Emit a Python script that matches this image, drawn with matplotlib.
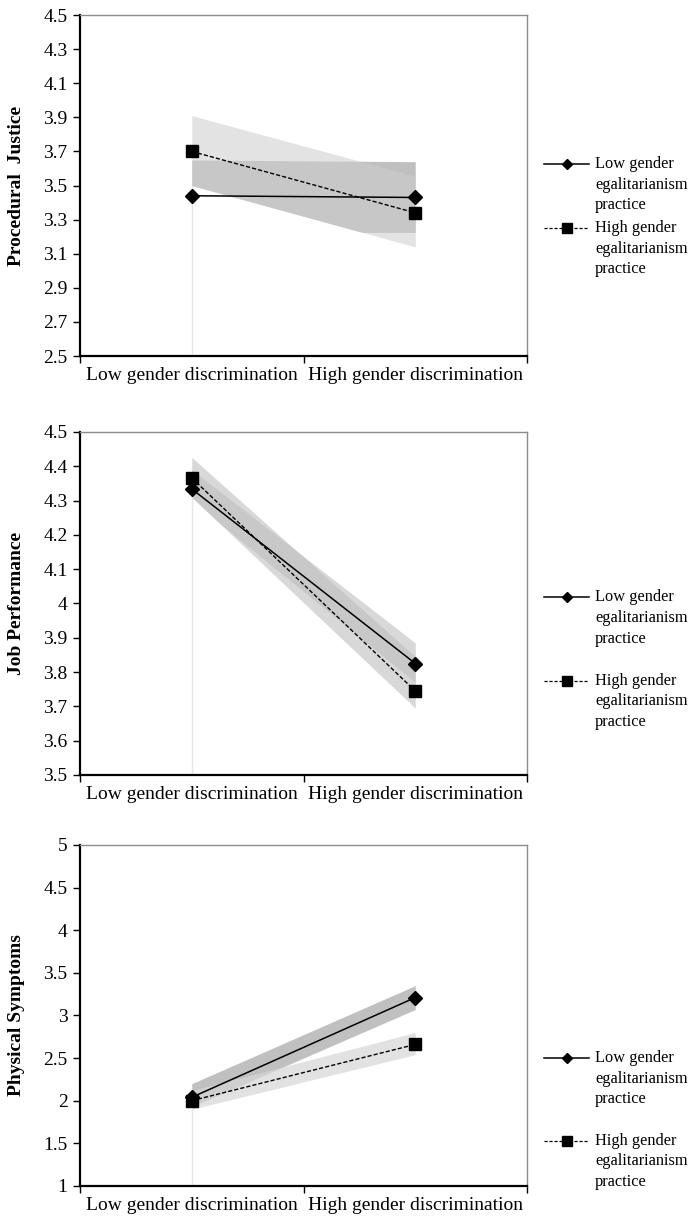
import matplotlib
matplotlib.use('Agg')
import matplotlib.pyplot as plt
from matplotlib.ticker import FixedLocator, FuncFormatter

plt.rcParams['font.family'] = ['Liberation Serif', 'DejaVu Serif']

categories = ['Low gender discrimination', 'High gender discrimination']
legend_labels = ['Low gender\negalitarianism\npractice',
                 'High gender\negalitarianism\npractice']

# Procedural justice
pj_low = [3.44, 3.43]
pj_high = [3.70, 3.34]
pj_low_lo = [3.225, 3.225]
pj_low_hi = [3.65, 3.64]
pj_high_lo = [3.50, 3.14]
pj_high_hi = [3.91, 3.555]

# Job performance
jp_low = [4.334, 3.825]
jp_high = [4.366, 3.745]
jp_low_lo = [4.30, 3.77]
jp_low_hi = [4.39, 3.885]
jp_high_lo = [4.31, 3.695]
jp_high_hi = [4.426, 3.845]

# Physical symptoms
ps_low = [2.04, 3.21]
ps_high = [2.00, 2.66]
ps_low_lo = [1.93, 3.07]
ps_low_hi = [2.20, 3.35]
ps_high_lo = [1.90, 2.54]
ps_high_hi = [2.12, 2.80]

fig = plt.figure(figsize=(6.91, 12.21), dpi=100)

def fmt(v, pos):
    return ('%.2f' % v).rstrip('0').rstrip('.')

def draw_panel(rect, low, high, low_lo, low_hi, high_lo, high_hi,
               ymin, ymax, step, ylabel, low_col, high_col, high_alpha,
               leg_y, leg_gap):
    ax = fig.add_axes(rect)
    x = [0.5, 1.5]
    # band of the low egalitarianism group
    ax.fill_between(x, low_lo, low_hi, color=low_col, lw=0, zorder=1)
    # white base under the high group band (as in the original area chart)
    ax.fill_between(x, [ymin, ymin], high_lo, color='white', lw=0, zorder=2)
    ax.vlines(x[0], ymin, high_lo[0], color='#e6e6e6', lw=1, zorder=2.5)
    ax.fill_between(x, high_lo, high_hi, color=high_col, alpha=high_alpha,
                    lw=0, zorder=3)
    ax.plot(x, low, color='black', lw=1.1, marker='D', ms=7, zorder=5)
    ax.plot(x, high, color='black', lw=1.0, ls=(0, (3, 1.5)), marker='s',
            ms=8.5, zorder=5)

    ax.set_xlim(0, 2)
    ax.set_ylim(ymin, ymax)
    n = int(round((ymax - ymin) / step))
    ax.yaxis.set_major_locator(FixedLocator([ymin + i * step for i in range(n + 1)]))
    ax.yaxis.set_major_formatter(FuncFormatter(fmt))
    ax.xaxis.set_major_locator(FixedLocator([0, 1, 2]))
    ax.xaxis.set_major_formatter(FuncFormatter(lambda v, p: ''))
    ax.xaxis.set_minor_locator(FixedLocator(x))
    ax.set_xticklabels(categories, minor=True)
    ax.tick_params(axis='x', which='minor', length=0, labelsize=14, pad=8)
    ax.tick_params(axis='x', which='major', length=5, width=1, direction='out')
    ax.tick_params(axis='y', length=5, width=1, direction='out', labelsize=14, pad=4)

    for s in ['left', 'bottom']:
        ax.spines[s].set_color('black')
        ax.spines[s].set_linewidth(1.6)
    for s in ['top', 'right']:
        ax.spines[s].set_color('#8c8c8c')
        ax.spines[s].set_linewidth(1.0)

    ax.set_ylabel(ylabel, fontsize=14, fontweight='bold')
    ax.yaxis.set_label_coords(-0.122, 0.5)

    # legend drawn by hand so the handle sits on the first line of text
    line_dy = 20.5 / 341
    styles = [dict(ls='-', lw=1.1, marker='D', ms=5.5),
              dict(ls=(0, (2.5, 1.5)), lw=0.9, marker='s', ms=6.5)]
    for i, lab in enumerate(legend_labels):
        yy = leg_y - i * leg_gap
        ax.plot([1.038, 1.139], [yy, yy], color='black', transform=ax.transAxes,
                clip_on=False, ls=styles[i]['ls'], lw=styles[i]['lw'])
        ax.plot([1.0885], [yy], color='black', transform=ax.transAxes,
                clip_on=False, marker=styles[i]['marker'], ms=styles[i]['ms'])
        for j, part in enumerate(lab.split('\n')):
            ax.text(1.152, yy - j * line_dy, part, transform=ax.transAxes,
                    fontsize=11.8, va='center', ha='left')
    return ax

draw_panel([0.1158, 0.7084, 0.6469, 0.2793], pj_low, pj_high,
           pj_low_lo, pj_low_hi, pj_high_lo, pj_high_hi,
           2.5, 4.5, 0.2, 'Procedural  Justice', '#c0c0c0', '#cecece', 0.56,
           0.563, 0.188)

draw_panel([0.1158, 0.3653, 0.6469, 0.2809], jp_low, jp_high,
           jp_low_lo, jp_low_hi, jp_high_lo, jp_high_hi,
           3.5, 4.5, 0.1, 'Job Performance', '#d8d8d8', '#bdbdbd', 0.59,
           0.518, 0.243)

draw_panel([0.1158, 0.0287, 0.6469, 0.2793], ps_low, ps_high,
           ps_low_lo, ps_low_hi, ps_high_lo, ps_high_hi,
           1.0, 5.0, 0.5, 'Physical Symptoms', '#c0c0c0', '#d6d6d6', 0.7,
           0.375, 0.243)

fig.savefig('out.png', dpi=100)
